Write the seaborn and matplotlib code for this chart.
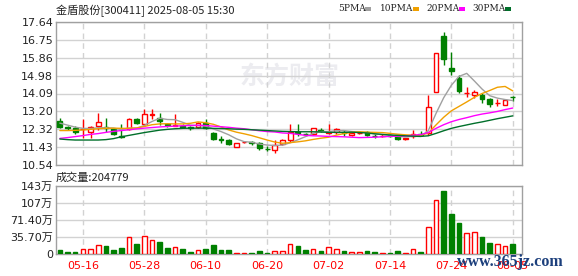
import numpy as np
import pandas as pd
import matplotlib
matplotlib.use("Agg")
import matplotlib.pyplot as plt
import seaborn as sns
from matplotlib.patches import Rectangle

# ---------------- data ----------------
dates = ["05-13", "05-14", "05-15", "05-16", "05-19", "05-20", "05-21", "05-22", "05-23", "05-26",
         "05-27", "05-28", "05-29", "05-30", "06-03", "06-04", "06-05", "06-06", "06-09", "06-10",
         "06-11", "06-12", "06-13", "06-16", "06-17", "06-18", "06-19", "06-20", "06-23", "06-24",
         "06-25", "06-26", "06-27", "06-30", "07-01", "07-02", "07-03", "07-04", "07-07", "07-08",
         "07-09", "07-10", "07-11", "07-14", "07-15", "07-16", "07-17", "07-18", "07-21", "07-22",
         "07-23", "07-24", "07-25", "07-28", "07-29", "07-30", "07-31", "08-01", "08-04", "08-05"]

opens = [12.74, 12.42, 12.36, 12.31, 12.19, 12.49, 12.44, 12.32, 11.97, 12.33,
         12.82, 12.56, 13.00, 12.88, 12.57, 12.50, 12.46, 12.42, 12.45, 12.61,
         12.12, 11.85, 11.78, 11.45, 11.68, 11.67, 11.65, 11.34, 11.29, 11.58,
         11.78, 12.18, 12.10, 12.08, 12.27, 12.14, 12.19, 12.16, 12.04, 12.13,
         12.18, 12.00, 11.96, 12.01, 12.01, 11.84, 11.96, 12.06, 12.11, 14.15,
         16.96, 15.34, 14.84, 14.10, 14.00, 14.03, 13.82, 13.62, 13.52, 13.93]
highs = [12.86, 12.49, 12.46, 12.81, 12.49, 13.11, 12.86, 12.37, 12.60, 12.88,
         12.86, 13.32, 13.32, 13.11, 12.62, 13.06, 12.56, 12.50, 12.66, 12.82,
         12.20, 11.97, 11.82, 11.65, 11.74, 11.75, 11.68, 11.47, 11.78, 11.84,
         12.56, 12.56, 12.15, 12.40, 12.40, 12.59, 12.36, 12.30, 12.16, 12.22,
         12.24, 12.08, 12.10, 12.08, 12.04, 11.90, 12.30, 12.22, 14.02, 16.09,
         17.13, 16.17, 15.01, 14.40, 14.28, 14.11, 13.88, 13.80, 13.84, 13.97]
lows = [12.36, 12.28, 12.09, 11.87, 11.90, 12.28, 12.19, 12.02, 11.87, 12.30,
        12.58, 12.49, 12.82, 12.53, 12.44, 12.46, 12.37, 12.30, 12.40, 12.35,
        11.78, 11.65, 11.52, 11.42, 11.62, 11.55, 11.30, 11.22, 11.15, 11.55,
        11.70, 11.97, 11.98, 12.02, 12.17, 12.10, 12.10, 12.00, 12.00, 12.08,
        11.97, 11.90, 11.93, 11.92, 11.80, 11.80, 11.90, 11.97, 12.03, 14.15,
        15.50, 14.99, 14.10, 13.94, 13.87, 13.63, 13.42, 13.47, 13.50, 13.70]
closes = [12.44, 12.40, 12.16, 12.33, 12.42, 12.66, 12.40, 12.06, 11.94, 12.82,
          12.61, 13.06, 13.07, 12.72, 12.55, 12.53, 12.44, 12.38, 12.61, 12.40,
          11.83, 11.80, 11.57, 11.62, 11.70, 11.64, 11.36, 11.31, 11.54, 11.80,
          12.19, 12.13, 12.08, 12.37, 12.23, 12.18, 12.34, 12.12, 12.12, 12.15,
          12.02, 11.97, 11.98, 11.99, 11.83, 11.88, 12.10, 12.02, 13.40, 16.09,
          15.80, 15.21, 14.21, 14.13, 14.18, 13.80, 13.57, 13.64, 13.77, 13.90]

ma5 = [12.62, 12.52, 12.42, 12.36, 12.35, 12.39, 12.39, 12.37, 12.30, 12.38,
       12.37, 12.50, 12.70, 12.86, 12.80, 12.79, 12.66, 12.52, 12.50, 12.47,
       12.33, 12.20, 12.04, 11.84, 11.70, 11.67, 11.58, 11.53, 11.51, 11.53,
       11.64, 11.79, 11.95, 12.11, 12.20, 12.20, 12.24, 12.25, 12.20, 12.18,
       12.15, 12.08, 12.05, 12.02, 11.96, 11.93, 11.96, 11.96, 12.25, 13.10,
       13.88, 14.50, 14.94, 15.09, 14.71, 14.31, 13.98, 13.86, 13.79, 13.74]
ma10 = [12.25, 12.25, 12.26, 12.28, 12.31, 12.34, 12.36, 12.37, 12.36, 12.36,
        12.38, 12.45, 12.54, 12.58, 12.59, 12.58, 12.58, 12.61, 12.68, 12.64,
        12.56, 12.43, 12.28, 12.17, 12.09, 12.00, 11.89, 11.78, 11.68, 11.62,
        11.65, 11.69, 11.74, 11.81, 11.87, 11.92, 12.02, 12.10, 12.16, 12.19,
        12.17, 12.16, 12.15, 12.11, 12.07, 12.04, 12.02, 12.01, 12.13, 12.53,
        12.91, 13.23, 13.45, 13.67, 13.90, 14.09, 14.24, 14.40, 14.44, 14.22]
ma20 = [11.86, 11.90, 11.95, 12.00, 12.06, 12.10, 12.16, 12.21, 12.25, 12.29,
        12.33, 12.37, 12.40, 12.43, 12.45, 12.47, 12.49, 12.50, 12.51, 12.50,
        12.47, 12.44, 12.41, 12.37, 12.34, 12.29, 12.24, 12.20, 12.18, 12.13,
        12.11, 12.06, 12.01, 11.99, 11.98, 11.96, 11.95, 11.94, 11.92, 11.90,
        11.91, 11.92, 11.94, 11.96, 11.97, 11.98, 12.02, 12.05, 12.15, 12.36,
        12.54, 12.69, 12.80, 12.89, 12.99, 13.07, 13.13, 13.20, 13.29, 13.37]
ma30 = [11.83, 11.80, 11.78, 11.78, 11.78, 11.78, 11.80, 11.85, 11.94, 12.01,
        12.08, 12.15, 12.21, 12.27, 12.31, 12.34, 12.36, 12.37, 12.37, 12.37,
        12.36, 12.35, 12.34, 12.32, 12.31, 12.29, 12.27, 12.25, 12.23, 12.21,
        12.20, 12.19, 12.19, 12.19, 12.18, 12.16, 12.16, 12.16, 12.17, 12.15,
        12.13, 12.09, 12.06, 12.03, 12.01, 11.99, 11.97, 11.96, 11.99, 12.11,
        12.24, 12.36, 12.45, 12.53, 12.61, 12.68, 12.76, 12.84, 12.91, 12.98]

# volume in 万 (10k lots)
volume = [9.1, 4.9, 4.9, 10.5, 10.5, 18.9, 17.5, 9.1, 13.3, 35.7,
          21.7, 38.5, 30.1, 25.9, 13.3, 14.7, 11.2, 4.9, 8.4, 11.2,
          19.6, 7.7, 7.7, 2.8, 2.8, 2.8, 7.0, 2.8, 6.3, 6.3,
          21.7, 17.5, 9.1, 10.5, 7.0, 14.7, 10.5, 7.0, 4.2, 4.2,
          7.0, 4.9, 2.8, 2.8, 7.0, 2.8, 10.5, 4.9, 56.7, 114.1,
          133.0, 84.7, 65.8, 44.1, 46.9, 36.4, 23.8, 21.7, 16.8, 20.4779]

price_ticks = [10.54, 11.43, 12.32, 13.20, 14.09, 14.98, 15.86, 16.75, 17.64]
vol_ticks = [0, 35.7, 71.4, 107.1, 142.8]
vol_tick_labels = ["0", "35.70万", "71.40万", "107万", "143万"]
date_tick_labels = ["05-16", "05-28", "06-10", "06-20", "07-02", "07-14", "07-24", "08-05"]
title_text = "金盾股份[300411] 2025-08-05 15:30"
volume_text = "成交量:204779"
legend_names = ["5PMA", "10PMA", "20PMA", "30PMA"]

# ---------------- styling ----------------
RED = "#ff0000"
GREEN = "#008000"
MA_COLORS = ["#a0a0a0", "#f0a000", "#ff00ff", "#006f2a"]
GRID = "#d2d2d2"
SPINE = "#a0a0a0"
TXT = "#222222"

sns.set_theme(style="white")
plt.rcParams["font.family"] = ["DejaVu Sans", "Noto Sans CJK SC"]

df = pd.DataFrame({"idx": np.arange(len(dates)), "date": dates,
                   "open": opens, "high": highs, "low": lows, "close": closes,
                   "ma5": ma5, "ma10": ma10, "ma20": ma20, "ma30": ma30,
                   "volume": volume})
df["up"] = df["close"] >= df["open"]

W, H = 578, 276
fig = plt.figure(figsize=(W / 100, H / 100), dpi=100)
fig.patch.set_facecolor("white")
L, R = 56, 522
ax1 = fig.add_axes([L / W, 1 - 165 / H, (R - L) / W, (165 - 22) / H])
ax2 = fig.add_axes([L / W, 1 - 254 / H, (R - L) / W, (254 - 186) / H])

xlim = (-0.5, 60.2)
tick_pos = [df.index[df["date"] == d][0] for d in date_tick_labels]

# watermark
ax1.text((290 - L) / (R - L), (165 - 77) / 143, "东方财富", transform=ax1.transAxes,
         ha="center", va="center", fontsize=18, fontweight="bold", color="#ececf0",
         family=["Noto Sans CJK SC"], zorder=0)

# grid
for t in price_ticks:
    ax1.axhline(t, color=GRID, lw=1, zorder=0.5)
for t in vol_ticks:
    ax2.axhline(t, color=GRID, lw=1, zorder=0.5)
for p in tick_pos:
    ax1.axvline(p, color=GRID, lw=1, ls=(0, (4, 3)), zorder=0.5)
    ax2.axvline(p, color=GRID, lw=1, ls=(0, (4, 3)), zorder=0.5)

# candles
cols = np.where(df["up"], RED, GREEN)
ax1.vlines(df["idx"], df["low"], df["high"], colors=cols, lw=1, zorder=2)
body_bottom = np.minimum(df["open"], df["close"])
body_h = np.maximum(np.abs(df["close"] - df["open"]), 0.005)
ax1.bar(df["idx"], body_h, bottom=body_bottom, width=0.62,
        color=np.where(df["up"], "white", GREEN), edgecolor=cols, linewidth=1, zorder=3)

# moving averages
for name, c in zip(["ma5", "ma10", "ma20", "ma30"], MA_COLORS):
    sns.lineplot(data=df, x="idx", y=name, ax=ax1, color=c, lw=1.0, zorder=4)

# volume
ax2.bar(df["idx"], df["volume"], width=0.6,
        color=np.where(df["up"], "white", GREEN), edgecolor=cols, linewidth=1, zorder=3)

for ax in (ax1, ax2):
    ax.set_xlim(*xlim)
    ax.set_xlabel("")
    ax.set_ylabel("")
    ax.grid(False)
    for s in ax.spines.values():
        s.set_color(SPINE)
        s.set_linewidth(1)
    ax.tick_params(length=0, pad=2)

ax1.set_ylim(price_ticks[0], price_ticks[-1])
ax1.set_yticks(price_ticks)
ax1.set_yticklabels([f"{t:.2f}" for t in price_ticks], fontsize=8, color=TXT)
ax1.set_xticks([])

ax2.set_ylim(vol_ticks[0], vol_ticks[-1])
ax2.set_yticks(vol_ticks)
ax2.set_yticklabels(vol_tick_labels, fontsize=8, color=TXT,
                    family=["DejaVu Sans", "Noto Sans CJK SC"])
ax2.set_xticks(tick_pos)
ax2.set_xticklabels(date_tick_labels, fontsize=8, color=RED)
ax2.tick_params(axis="x", pad=5)

# texts
fig.text(L / W, 1 - 11 / H, title_text, fontsize=8, color=TXT, ha="left", va="center",
         family=["Noto Sans CJK SC", "DejaVu Sans"])
fig.text(L / W, 1 - 178 / H, volume_text, fontsize=8, color=TXT, ha="left", va="center",
         family=["Noto Sans CJK SC", "DejaVu Sans"])

leg_x = [338, 380, 426, 472]
sq_x = [365, 413, 459, 505]
for name, c, tx, sx in zip(legend_names, MA_COLORS, leg_x, sq_x):
    fig.text(tx / W, 1 - 8.5 / H, name, fontsize=6.5, color=TXT, ha="left", va="center",
             family=["DejaVu Serif"])
    fig.add_artist(Rectangle((sx / W, 1 - 10.5 / H), 6 / W, 3.5 / H,
                             transform=fig.transFigure, color=c, lw=0))

fig.text(457 / W, 1 - 262 / H, "www.365jz.com", fontsize=11.5, color="#1c3f7c",
         ha="left", va="center", family=["Liberation Serif"], fontweight="bold")

fig.savefig("out.png", dpi=100, facecolor="white")
